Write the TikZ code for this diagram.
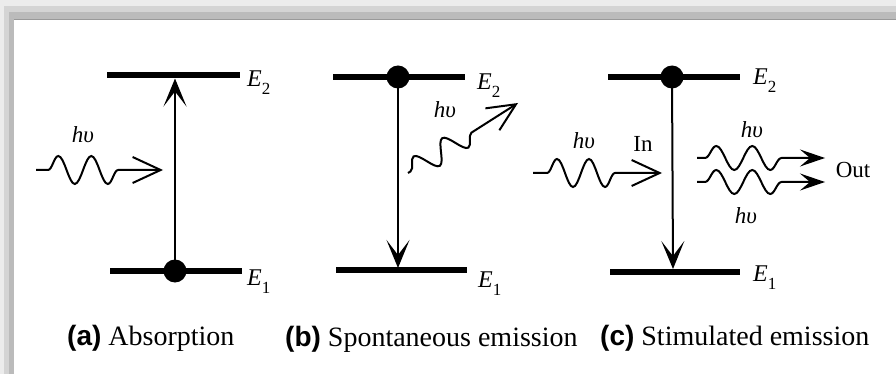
\documentclass[tikz,border=0pt]{standalone}
\usepackage{fontspec}
\setmainfont{Liberation Serif}
\newfontfamily\capsf{Liberation Sans}
\usetikzlibrary{arrows.meta,decorations.pathmorphing}
\definecolor{fra}{HTML}{ECECEC}
\definecolor{frb}{HTML}{D4D4D4}
\definecolor{frc}{HTML}{BBBBBB}
\definecolor{frd}{HTML}{999999}
\newcommand\Elab[1]{\textit{E}\raisebox{-8pt}{\fontsize{17}{17}\selectfont #1}}
\tikzset{
  level/.style={line width=6.5pt},
  trans/.style={line width=2pt,-{Stealth[length=28pt,width=23pt,inset=15pt]}},
  elec/.style={circle,fill=black,inner sep=0pt,minimum size=23pt},
  photon/.style n args={4}{line width=2pt,decorate,
     decoration={snake,amplitude=#1,segment length=#2,pre length=#3,post length=#4}},
  openhead/.style={-{Straight Barb[length=28pt,width=26pt]}},
  fullhead/.style={-{Stealth[length=25pt,width=17pt,inset=10pt]}},
  lab/.style={font=\fontsize{23}{26}\selectfont,inner sep=0pt},
  elab/.style={font=\fontsize{24}{26}\selectfont,inner sep=0pt,anchor=base west},
  captext/.style={font=\fontsize{28}{30}\selectfont,inner sep=0pt,anchor=base west}
}
\begin{document}
\begin{tikzpicture}[x=1pt,y=-1pt]
\useasboundingbox (0,0) rectangle (896,374);
% frame
\fill[fra] (0,0) rectangle (896,6);
\fill[frb] (4,6) rectangle (896,12);
\fill[frc] (9,12) rectangle (896,19);
\draw[frd,line width=1pt] (14,19.5) -- (896,19.5);
\fill[fra] (0,0) rectangle (4,374);
\fill[frb] (4,6) rectangle (9,374);
\fill[frc] (9,12) rectangle (14,374);

% ---------- (a) absorption
\coordinate (a2l) at (107,75); \coordinate (a2r) at (240,75);
\coordinate (a1l) at (110,271); \coordinate (a1r) at (242,271);
\draw[level] (a2l) -- (a2r);
\draw[level] (a1l) -- (a1r);
\node[elec] (ae) at (175,271) {};
\coordinate (atop) at (175,78.5);
\draw[trans] (ae.center) -- (atop);
\node[elab] (aE2) at (247,87) {\Elab{2}};
\node[elab] (aE1) at (247,285) {\Elab{1}};
\coordinate (ap0) at (36,170); \coordinate (ap1) at (163,170);
\draw[photon={14pt}{33pt}{12pt}{43pt},openhead] (ap0) -- (ap1);
\node[lab] (ahv) at (83,135) {\textit{hυ}};

% ---------- (b) spontaneous emission
\coordinate (b2l) at (333,77); \coordinate (b2r) at (465,77);
\coordinate (b1l) at (336,270); \coordinate (b1r) at (467,270);
\draw[level] (b2l) -- (b2r);
\draw[level] (b1l) -- (b1r);
\node[elec] (be) at (398,77) {};
\coordinate (bbot) at (398,268);
\draw[trans] (be.center) -- (bbot);
\node[elab] (bE2) at (477,90) {\Elab{2}};
\node[elab] (bE1) at (478,287) {\Elab{1}};
\coordinate (bp0) at (408,173); \coordinate (bp1) at (518,103);
\draw[photon={11pt}{34pt}{3pt}{52pt},openhead] (bp0) -- (bp1);
\node[lab] (bhv) at (445,110) {\textit{hυ}};

% ---------- (c) stimulated emission
\coordinate (c2l) at (608,77); \coordinate (c2r) at (740,77);
\coordinate (c1l) at (610,272); \coordinate (c1r) at (740,272);
\draw[level] (c2l) -- (c2r);
\draw[level] (c1l) -- (c1r);
\node[elec] (ce) at (672,77) {};
\coordinate (cbot) at (673,269);
\draw[trans] (ce.center) -- (cbot);
\node[elab] (cE2) at (753,85) {\Elab{2}};
\node[elab] (cE1) at (753,281) {\Elab{1}};
\coordinate (cp0) at (533,173); \coordinate (cp1) at (662,173);
\draw[photon={14pt}{32pt}{14pt}{45pt},openhead] (cp0) -- (cp1);
\node[lab] (chv) at (584,141) {\textit{hυ}};
\node[lab] (cin) at (643,144) {In};
\coordinate (cu0) at (697,158); \coordinate (cu1) at (825,158);
\coordinate (cl0) at (697,182); \coordinate (cl1) at (825,182);
\draw[photon={12pt}{36pt}{8pt}{42pt},fullhead] (cu0) -- (cu1);
\draw[photon={12pt}{36pt}{8pt}{42pt},fullhead] (cl0) -- (cl1);
\node[lab] (chvu) at (752,130) {\textit{hυ}};
\node[lab] (chvl) at (746,216) {\textit{hυ}};
\node[lab] (cout) at (853,170) {Out};

% ---------- captions
\node[captext] (capa) at (67,345) {{\capsf\bfseries (a)} Absorption};
\node[captext] (capb) at (285,346) {{\capsf\bfseries (b)} Spontaneous emission};
\node[captext] (capc) at (600,345) {{\capsf\bfseries (c)} Stimulated emission};
\end{tikzpicture}
\end{document}
